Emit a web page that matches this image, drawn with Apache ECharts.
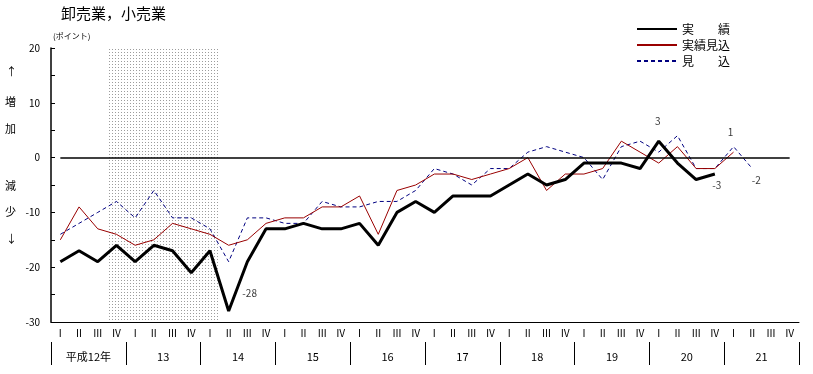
<!DOCTYPE html>
<html><head><meta charset="utf-8">
<script src="https://cdn.jsdelivr.net/npm/echarts@6/dist/echarts.min.js"></script>
<style>html,body{margin:0;padding:0;background:#fff}#c{width:813px;height:374px}</style>
</head><body><div id="c"></div>
<script>
// ---- data ----
const yearLabels = ['平成12年','13','14','15','16','17','18','19','20','21'];
const quarterLabels = ['Ⅰ','Ⅱ','Ⅲ','Ⅳ'];
const seriesNames = ['実　　績','実績見込','見　　込'];
const actual = [-19,-17,-19,-16, -19,-16,-17,-21, -17,-28,-19,-13, -13,-12,-13,-13, -12,-16,-10,-8,
                -10,-7,-7,-7, -5,-3,-5,-4, -1,-1,-1,-2, 3,-1,-4,-3];
const estimatedActual = [-15,-9,-13,-14, -16,-15,-12,-13, -14,-16,-15,-12, -11,-11,-9,-9, -7,-14,-6,-5,
                -3,-3,-4,-3, -2,0,-6,-3, -3,-2,3,1, -1,2,-2,-2, 1];
const forecast = [-14,-12,-10,-8, -11,-6,-11,-11, -13,-19,-11,-11, -12,-12,-8,-9, -9,-8,-8,-6,
                -2,-3,-5,-2, -2,1,2,1, 0,-4,2,3, 1,4,-2,-2, 2,-2];
const shadeRange = [3, 8];          // category indices: 平成12年Ⅳ – 14年Ⅰ
const yRange = [-30, 20];
const yStep = 5;

// ---- build ----
const categories = [];
yearLabels.forEach((y, yi) => quarterLabels.forEach(q => categories.push(yi + '-' + q)));

// dotted pattern for shaded period
const pc = document.createElement('canvas');
pc.width = 3; pc.height = 3;
const pctx = pc.getContext('2d');
pctx.fillStyle = '#ffffff'; pctx.fillRect(0,0,3,3);
pctx.fillStyle = '#9c9c9c'; pctx.fillRect(1,1,1,1);
const pattern = {image: pc, repeat: 'repeat'};

const labelSpecs = [
  {arr: actual, i: 9, off: [22, -17]},
  {arr: actual, i: 32, off: [0, -19]},
  {arr: actual, i: 35, off: [3, 12]},
  {arr: estimatedActual, i: 36, off: [-2, -19]},
  {arr: forecast, i: 37, off: [5, 13]}
];

const font = '"Noto Sans CJK JP", sans-serif';
const chart = echarts.init(document.getElementById('c'), null, {renderer: 'canvas'});
chart.setOption({
  animation: false,
  textStyle: {fontFamily: font, color: '#000'},
  title: {text: '卸売業，小売業', left: 56, top: 1,
    textStyle: {fontSize: 15, fontWeight: 'normal', color: '#000', fontFamily: font}},
  legend: {
    orient: 'vertical', left: 636, top: 23, padding: 0,
    itemWidth: 40, itemHeight: 12, itemGap: 4,
    itemStyle: {opacity: 0},
    data: seriesNames,
    textStyle: {fontSize: 12, color: '#000', fontFamily: font}
  },
  graphic: [
    {type: 'text', left: 53, top: 32, style: {text: '(ポイント)', fill: '#000', font: '8px ' + font}},
    {type: 'text', left: 6, top: 66, style: {text: '↑', fill: '#000', font: '11px ' + font}},
    {type: 'text', left: 5, top: 96, style: {text: '増', fill: '#000', font: '11px ' + font}},
    {type: 'text', left: 5, top: 123, style: {text: '加', fill: '#000', font: '11px ' + font}},
    {type: 'text', left: 5, top: 180, style: {text: '減', fill: '#000', font: '11px ' + font}},
    {type: 'text', left: 5, top: 206, style: {text: '少', fill: '#000', font: '11px ' + font}},
    {type: 'text', left: 6, top: 233, style: {text: '↓', fill: '#000', font: '11px ' + font}}
  ],
  grid: {left: 51, right: 14, top: 48, bottom: 52},
  xAxis: [
    {
      type: 'category', data: categories, boundaryGap: true, position: 'bottom',
      axisLine: {onZero: false, lineStyle: {color: '#000', width: 1}},
      axisTick: {interval: 0, length: 20, lineStyle: {color: '#000'}},
      axisLabel: {interval: 0, margin: 6, fontSize: 10, color: '#000', fontFamily: font,
        formatter: v => v.split('-')[1]}
    },
    {
      type: 'category', data: yearLabels, boundaryGap: true, position: 'bottom', offset: 20,
      axisLine: {show: false, onZero: false},
      axisTick: {show: true, interval: 0, length: 23, lineStyle: {color: '#000'}},
      axisLabel: {interval: 0, margin: 9, fontSize: 11, color: '#000', fontFamily: font}
    }
  ],
  yAxis: {
    type: 'value', min: yRange[0], max: yRange[1], interval: yStep,
    axisLine: {show: true, onZero: false, lineStyle: {color: '#000', width: 1.5}},
    axisTick: {show: true, inside: true, length: 4, lineStyle: {color: '#000'}},
    axisLabel: {margin: 11, fontSize: 10, color: '#000', fontFamily: font,
      formatter: v => (v % 10 === 0 ? String(v) : '')},
    splitLine: {show: false}
  },
  series: [
    {
      type: 'custom', silent: true, z: 0, data: [shadeRange],
      encode: {x: 0, y: -1},
      renderItem: (params, api) => {
        const s = api.coord([api.value(0), yRange[1]]);
        const e = api.coord([api.value(1), yRange[0]]);
        const band = api.size([1, 0])[0];
        return {type: 'rect',
          shape: {x: s[0] - band / 2, y: s[1], width: e[0] - s[0] + band, height: e[1] - s[1]},
          style: {fill: pattern}};
      }
    },
    {
      name: seriesNames[0], type: 'line', data: actual, symbol: 'none', z: 5,
      lineStyle: {color: '#000', width: 3}, itemStyle: {color: '#000'},
      markLine: {silent: true, symbol: 'none', label: {show: false},
        lineStyle: {color: '#000', width: 1.5, type: 'solid'},
        data: [[{xAxis: categories[0], yAxis: 0}, {xAxis: categories[categories.length - 1], yAxis: 0}]]}
    },
    {
      name: seriesNames[1], type: 'line', data: estimatedActual, symbol: 'none', z: 4,
      lineStyle: {color: '#990000', width: 1}, itemStyle: {color: '#990000'}
    },
    {
      name: seriesNames[2], type: 'line', data: forecast, symbol: 'none', z: 3,
      lineStyle: {color: '#000080', width: 1, type: [4, 3]}, itemStyle: {color: '#000080'}
    },
    {
      type: 'scatter', silent: true, symbolSize: 2, z: 6,
      itemStyle: {color: 'rgba(0,0,0,0)'},
      data: labelSpecs.map(s => ({
        value: [s.i, s.arr[s.i]],
        label: {show: true, position: s.off, align: 'center', verticalAlign: 'middle',
          fontSize: 10, color: '#000', fontFamily: font,
          formatter: p => String(p.value[1])}
      }))
    }
  ]
});
</script></body></html>
